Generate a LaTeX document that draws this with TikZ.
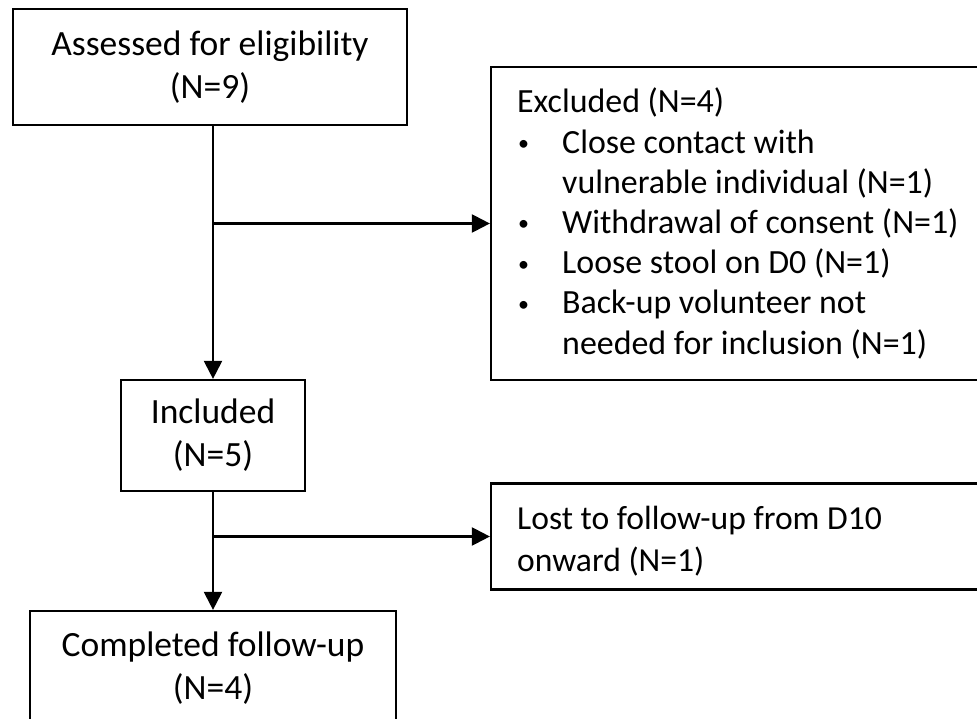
\documentclass[tikz,border=0pt]{standalone}
\usepackage{fontspec}
\setmainfont{Carlito}
\usetikzlibrary{arrows.meta}
\newcommand{\blt}{\makebox[45pt][l]{\hspace{1pt}{\fontsize{22}{22}\selectfont\raisebox{2.5pt}{\textbullet}}}}
\begin{document}
\begin{tikzpicture}[x=1pt,y=-1pt,
  box/.style={draw=black, line width=2.2pt, align=center, inner sep=0pt, font=\fontsize{35.5}{43}\selectfont},
  conn/.style={draw=black, line width=2.2pt},
  arr/.style={conn, -{Triangle[length=18pt,width=18pt]}},
  txt/.style={align=left, inner sep=0pt, anchor=base west}]
\useasboundingbox (0,0) rectangle (977,719);
\begin{scope}
\clip (0,0) rectangle (977,719);
\node[box, minimum width=394pt, minimum height=116pt] (assess) at (210,67) {Assessed for eligibility\\(N=9)};
\node[box, minimum width=494pt, minimum height=313pt] (excl) at (738,223.5) {};
\node[txt, font=\fontsize{33.9}{40.2}\selectfont] (excltxt) at (517,354)
  {Excluded (N=4)\\
   \blt Close contact with\\
   \hspace*{45pt}vulnerable individual (N=1)\\
   \blt Withdrawal of consent (N=1)\\
   \blt Loose stool on D0 (N=1)\\
   \blt Back-up volunteer not\\
   \hspace*{45pt}needed for inclusion (N=1)};
\node[box, minimum width=184pt, minimum height=111pt] (incl) at (213,435.5) {Included\\(N=5)};
\node[box, minimum width=494pt, minimum height=106pt] (lost) at (738,536.5) {};
\node[txt, font=\fontsize{33.6}{42}\selectfont] (losttxt) at (517,571)
  {Lost to follow-up from D10\\onward (N=1)};
\node[box, minimum width=366pt, minimum height=114pt] (compl) at (213,668) {Completed follow-up\\(N=4)};
\coordinate (j1) at (incl.north |- excl.west);
\coordinate (j2) at (incl.south |- lost.west);
\draw[arr] (assess.south -| incl.north) -- (incl.north);
\draw[arr] (j1) -- (excl.west);
\draw[arr] (incl.south) -- (compl.north);
\draw[arr] (j2) -- (lost.west);
\end{scope}
\end{tikzpicture}
\end{document}
